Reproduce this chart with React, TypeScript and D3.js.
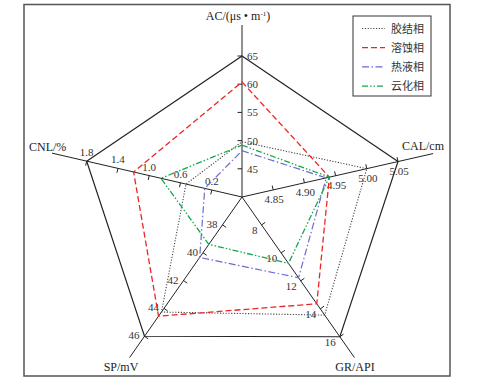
import React from "react";
import * as d3 from "d3";

// ---- data ----
const axisKeys = ["AC", "CAL", "GR", "SP", "CNL"];
const acTicks = [45, 50, 55, 60, 65];
const calTicks = [4.85, 4.9, 4.95, 5.0, 5.05];
const grTicks = [8, 10, 12, 14, 16];
const spTicks = [38, 40, 42, 44, 46];
const cnlTicks = [0.2, 0.6, 1.0, 1.4, 1.8];
const tickFormats = ["d", ".2f", "d", "d", ".1f"];

const seriesNames = ["胶结相", "溶蚀相", "热液相", "云化相"];
const jiaojie = [49.8, 5.0, 14.45, 44.26, 0.53];
const rongshi = [60.4, 4.94, 13.64, 44.56, 1.2];
const reye = [48.2, 4.935, 11.78, 40.34, 0.29];
const yunhua = [49.2, 4.94, 10.75, 39.4, 0.85];

// ---- layout ----
const W = 490, H = 389;
const cx = 242, cy = 197;
const angles = [-90, -12.8, 55, 125, 193].map((a) => (a * Math.PI) / 180);
const scales = [
  d3.scaleLinear().domain([40, 65]).range([0, 141]),
  d3.scaleLinear().domain([4.8, 5.05]).range([0, 160]),
  d3.scaleLinear().domain([6, 16]).range([0, 170.6]),
  d3.scaleLinear().domain([36, 46]).range([0, 170]),
  d3.scaleLinear().domain([0.2, 1.8]).range([31, 159.4]),
];
const axisExtent = [172, 196, 196, 196, 195];
const allTicks = [acTicks, calTicks, grTicks, spTicks, cnlTicks];

const styles = [
  { color: "#444", dash: "1.2,1.6", width: 1.1 },
  { color: "#ee2424", dash: "6,3", width: 1.3 },
  { color: "#6a6ad2", dash: "7,2.5,1.5,2.5", width: 1.2 },
  { color: "#14a850", dash: "6,2,1.5,2,1.5,2", width: 1.3 },
];
const seriesData = [jiaojie, rongshi, reye, yunhua];

function pt(i: number, v: number): [number, number] {
  const r = scales[i](v);
  return [cx + r * Math.cos(angles[i]), cy + r * Math.sin(angles[i])];
}

const closedLine = d3.line<[number, number]>().curve(d3.curveLinearClosed);

export default function App() {
  const serif = "'Liberation Serif', 'Times New Roman', serif";
  const cjk = "'Noto Sans CJK SC', sans-serif";
  const outer = allTicks.map((t, i) => pt(i, t[t.length - 1]));

  // label placement per axis (offsets relative to tick point)
  const labelPlace = (i: number, x: number, y: number) => {
    switch (i) {
      case 0: return { x: x + 5, y: y + 4, anchor: "start" };
      case 1: return { x: x + 1, y: y + 13, anchor: "middle" };
      case 2: return { x: x - 4, y: y + 9, anchor: "end" };
      case 3: return { x: x - 5, y: y + 3, anchor: "end" };
      default: return { x: x, y: y - 5, anchor: "middle" };
    }
  };

  return (
    <svg width={W} height={H} style={{ position: "absolute", left: 0, top: 0, background: "#fff" }}>
      <rect x={24} y={4.5} width={426} height={371.5} fill="none" stroke="#555" strokeWidth={1.5} />

      {/* axes */}
      {axisKeys.map((k, i) => (
        <line key={k} x1={cx} y1={cy}
          x2={cx + axisExtent[i] * Math.cos(angles[i])}
          y2={cy + axisExtent[i] * Math.sin(angles[i])}
          stroke="#222" strokeWidth={1} />
      ))}

      {/* outer pentagon */}
      <path d={closedLine(outer) || ""} fill="none" stroke="#222" strokeWidth={1.2} />

      {/* ticks & labels */}
      {allTicks.map((ticks, i) => {
        const dx = Math.cos(angles[i]), dy = Math.sin(angles[i]);
        const px = dy, py = -dx;
        const fmt = d3.format(tickFormats[i]);
        return (
          <g key={"t" + i}>
            {ticks.map((t) => {
              const [x, y] = pt(i, t);
              const lp = labelPlace(i, x, y);
              return (
                <g key={t}>
                  <line x1={x} y1={y} x2={x + px * 4.5} y2={y + py * 4.5} stroke="#222" strokeWidth={1} />
                  <text x={lp.x} y={lp.y} textAnchor={lp.anchor as any} fontFamily={serif} fontSize={11} fill="#333">
                    {fmt(t)}
                  </text>
                </g>
              );
            })}
          </g>
        );
      })}

      {/* series */}
      {seriesData.map((vals, s) => (
        <path key={seriesNames[s]}
          d={closedLine(vals.map((v, i) => pt(i, v))) || ""}
          fill="none" stroke={styles[s].color} strokeWidth={styles[s].width}
          strokeDasharray={styles[s].dash} />
      ))}

      {/* axis titles */}
      <text x={238} y={20} textAnchor="middle" fontFamily={serif} fontSize={12} fill="#222">
        AC/(μs • m<tspan dy={-4} fontSize={7}>-1</tspan><tspan dy={4}>)</tspan>
      </text>
      <text x={402} y={150} fontFamily={serif} fontSize={12} fill="#222">CAL/cm</text>
      <text x={355} y={371} textAnchor="middle" fontFamily={serif} fontSize={12} fill="#222">GR/API</text>
      <text x={121} y={371} textAnchor="middle" fontFamily={serif} fontSize={12} fill="#222">SP/mV</text>
      <text x={29} y={151} fontFamily={serif} fontSize={12} fill="#222">CNL/%</text>

      {/* legend */}
      <rect x={353} y={16} width={78} height={80} fill="#fff" stroke="#333" strokeWidth={1} />
      {seriesNames.map((n, s) => {
        const y = 28.5 + s * 19.2;
        return (
          <g key={"l" + n}>
            <line x1={362} x2={385} y1={y} y2={y} stroke={styles[s].color} strokeWidth={styles[s].width}
              strokeDasharray={styles[s].dash} />
            <text x={391} y={y + 4} fontFamily={cjk} fontSize={11} fill="#333">{n}</text>
          </g>
        );
      })}
    </svg>
  );
}
